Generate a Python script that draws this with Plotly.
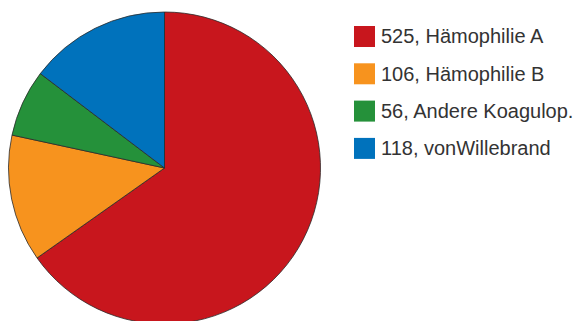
import plotly.graph_objects as go

# Patient counts per bleeding disorder
labels = ["Hämophilie A", "Hämophilie B", "Andere Koagulop.", "vonWillebrand"]
counts = [525, 106, 56, 118]
colors = ["#C8161D", "#F7931E", "#25913A", "#0072BC"]

W, H = 576, 324
ML, MT = 8, 12
PW, PH = W - ML, H - MT


def px_x(x):
    return (x - ML) / PW


def px_y(y):
    return 1 - (y - MT) / PH


fig = go.Figure(
    go.Pie(
        labels=labels,
        values=counts,
        sort=False,
        direction="clockwise",
        rotation=0,
        textinfo="none",
        hoverinfo="label+value",
        marker=dict(colors=colors, line=dict(color="#2b2b2b", width=0.8)),
        domain=dict(x=[0, 313 / PW], y=[0, 1]),
        showlegend=False,
    )
)

# Legend: colour square plus "count, label" for each slice
row0, row_gap = 36.5, 37.3
for i, (lab, n, c) in enumerate(zip(labels, counts, colors)):
    cy = row0 + i * row_gap
    fig.add_shape(
        type="rect",
        xref="paper", yref="paper",
        x0=px_x(354), x1=px_x(375),
        y0=px_y(cy + 10.5), y1=px_y(cy - 10.5),
        fillcolor=c, line=dict(width=0),
    )
    fig.add_annotation(
        xref="paper", yref="paper",
        x=px_x(379), y=px_y(cy),
        xanchor="left", yanchor="middle",
        text=f"{n}, {lab}",
        showarrow=False,
        font=dict(family="Liberation Sans, Arial, sans-serif", size=20, color="#333333"),
    )

fig.update_layout(
    width=W, height=H,
    margin=dict(l=ML, r=0, t=MT, b=0, autoexpand=False),
    paper_bgcolor="white",
    plot_bgcolor="white",
)

fig.write_html(
    "out.html",
    post_script="document.documentElement.style.overflow='hidden';document.body.style.overflow='hidden';",
)
